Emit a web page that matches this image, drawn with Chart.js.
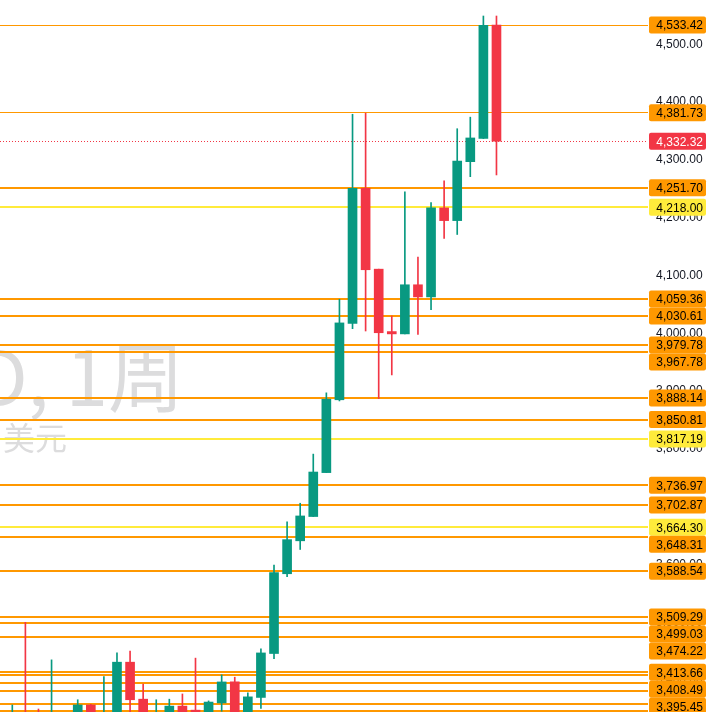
<!DOCTYPE html>
<html>
<head>
<meta charset="utf-8">
<script src="https://cdn.jsdelivr.net/npm/chart.js@4/dist/chart.umd.min.js"></script>
<style>
  body { margin: 0; background: #fff; }
  #wrap { width: 710px; height: 712px; position: relative; }
</style>
</head>
<body>
<div id="wrap"><canvas id="chart"></canvas></div>
<script>
// weekly candles, oldest first
const opens  = [3325, 3327, 3319, 3240, 3325, 3300, 3357, 3318, 3335, 3431, 3367, 3337, 3342, 3355, 3348, 3337, 3360.5, 3397, 3336, 3370,
                3446, 3584, 3641, 3683, 3759, 3885, 4017, 4251, 4111, 4003, 3999, 4084, 4063, 4217, 4195, 4297, 4337, 4533.42]
const highs  = [3357, 3500, 3350, 3435, 3341, 3366, 3358, 3406, 3447, 3450.4, 3393, 3366, 3367, 3376, 3438, 3364, 3409, 3405, 3378, 3454,
                3599, 3674, 3706, 3791, 3897, 4059, 4379, 4381, 4111, 4030, 4245, 4132, 4226, 4264, 4354, 4374, 4549, 4549]
const lows   = [3305, 3260, 3202, 3120, 3245, 3290, 3300, 3290, 3330, 3341, 3280, 3320, 3308, 3300, 3268, 3325, 3346, 3311, 3312, 3351,
                3437, 3579, 3626, 3683, 3759, 3883, 4008, 4004, 3887, 3928, 3999, 3998, 4041, 4164, 4171, 4271, 4337, 4274]
const closes = [3340, 3319, 3240, 3325, 3300, 3357, 3318, 3335, 3431, 3366, 3337, 3342, 3355, 3335, 3337, 3362, 3396.8, 3336, 3371, 3447,
                3586, 3643, 3684, 3760, 3886, 4018, 4251, 4110, 4001, 3999, 4084, 4063, 4217, 4195, 4298, 4338, 4533, 4332.32]

// drawn levels
const thinLevels = [4533.42, 4381.73]
const orangeLevels = [4251.70, 4059.36, 4030.61, 3979.78, 3967.78, 3888.14, 3850.81, 3736.97, 3702.87, 3648.31, 3588.54,
                      3509.29, 3499.03, 3474.22, 3413.66, 3408.49, 3395.45, 3380.7, 3359.3, 3346.1]
const yellowLevels = [4218.00, 3817.19, 3664.30]
const lastPrice = 4332.32

const title = "XAUUSD, 1周"
const subtitle = "黄金现货 / 美元"

const UP = "#089981"
const DOWN = "#F23645"
const ORANGE = "#FF9800"
const YELLOW = "#FFEB3B"

const fmt = (v) => v.toLocaleString('en-US', {minimumFractionDigits: 2, maximumFractionDigits: 2})
const candleColor = opens.map((o, i) => closes[i] >= o ? UP : DOWN)

const levelsPlugin = {
    id: 'levels',
    beforeDraw(chart) {
        const ctx = chart.ctx
        ctx.save()
        ctx.fillStyle = '#fff'
        ctx.fillRect(0, 0, chart.width, chart.height)
        ctx.fillStyle = '#dcdcdd'
        ctx.textAlign = 'right'
        ctx.textBaseline = 'alphabetic'
        ctx.font = '76px "Noto Sans CJK SC"'
        ctx.fillText(title, 184, 406)
        ctx.font = '32px "Noto Sans CJK SC"'
        ctx.fillText(subtitle, 67, 450)
        ctx.restore()
    },
    beforeDatasetsDraw(chart) {
        const {ctx, chartArea, scales: {y}} = chart
        const w = chartArea.right - chartArea.left
        const line = (v, color, h) => {
            const py = Math.round(y.getPixelForValue(v) - h / 2)
            ctx.fillStyle = color
            ctx.fillRect(chartArea.left, py, w, h)
        }
        ctx.save()
        thinLevels.forEach(v => line(v, ORANGE, 1))
        orangeLevels.forEach(v => line(v, ORANGE, 2))
        yellowLevels.forEach(v => line(v, YELLOW, 2))
        // dotted last price line
        const py = Math.round(y.getPixelForValue(lastPrice) - 0.5)
        ctx.fillStyle = DOWN
        for (let x = chartArea.left; x < chartArea.right; x += 3) {
            ctx.fillRect(x, py, 1, 1)
        }
        ctx.restore()
    },
    afterDraw(chart) {
        const {ctx, chartArea, scales: {y}} = chart
        const tags = []
        thinLevels.concat(orangeLevels).forEach(v => tags.push({v, bg: ORANGE, fg: '#000'}))
        yellowLevels.forEach(v => tags.push({v, bg: YELLOW, fg: '#000'}))
        tags.push({v: lastPrice, bg: DOWN, fg: '#fff'})
        tags.forEach(t => t.py = y.getPixelForValue(t.v))
        tags.sort((a, b) => a.py - b.py)
        const h = 17
        let prev = -Infinity
        ctx.save()
        ctx.font = '12px "Liberation Sans"'
        ctx.textAlign = 'right'
        ctx.textBaseline = 'middle'
        tags.forEach(t => {
            const cy = Math.max(t.py, prev + h)
            prev = cy
            const x0 = chartArea.right + 1
            ctx.fillStyle = t.bg
            ctx.beginPath()
            ctx.roundRect(x0, cy - h / 2, 57, h, 2)
            ctx.fill()
            ctx.fillStyle = t.fg
            ctx.fillText(fmt(t.v), x0 + 54, cy + 1)
        })
        ctx.restore()
    }
}

const idx = opens.map((_, i) => i)

new Chart(document.getElementById('chart').getContext('2d'), {
    type: 'bar',
    data: {
        datasets: [{
            label: 'wick',
            data: idx.map(i => ({x: i, y: [lows[i], highs[i]]})),
            backgroundColor: candleColor,
            barThickness: 1,
            grouped: false,
            order: 2
        }, {
            label: 'body',
            data: idx.map(i => ({x: i, y: [opens[i], closes[i]]})),
            backgroundColor: candleColor,
            barThickness: 9,
            minBarLength: 1,
            grouped: false,
            order: 1
        }]
    },
    options: {
        responsive: true,
        maintainAspectRatio: false,
        animation: false,
        layout: { padding: 0, autoPadding: false },
        plugins: {
            legend: { display: false },
            tooltip: { enabled: false }
        },
        scales: {
            x: {
                type: 'linear',
                min: -0.94,
                max: 48.58,
                offset: false,
                display: false
            },
            y: {
                position: 'right',
                min: 3344.8,
                max: 4576.7,
                grid: { display: false, drawTicks: false },
                border: { display: false },
                ticks: {
                    stepSize: 100,
                    includeBounds: false,
                    padding: 8,
                    color: '#131722',
                    font: { family: 'Liberation Sans', size: 12 },
                    callback: (v) => fmt(v)
                },
                afterFit: (scale) => {
                    scale.width = 62
                    scale.paddingTop = 0
                    scale.paddingBottom = 0
                }
            }
        }
    },
    plugins: [levelsPlugin]
});
</script>
</body>
</html>
